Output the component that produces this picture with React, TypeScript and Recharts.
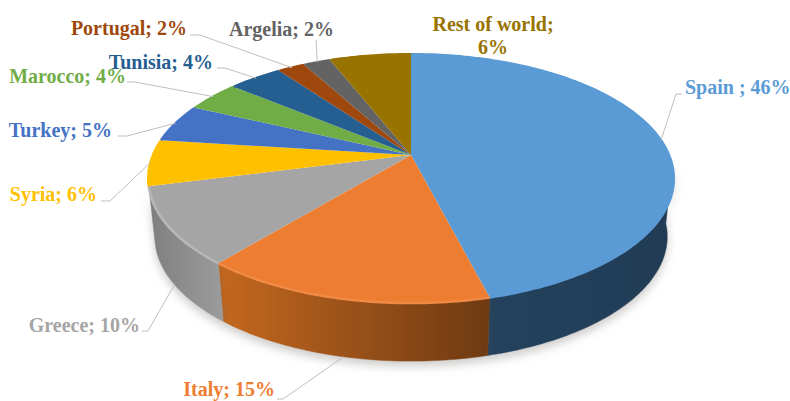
import React from 'react';
import { PieChart, Pie } from 'recharts';

// clockwise from 12 o'clock
const countries = ['Spain', 'Italy', 'Greece', 'Syria', 'Turkey', 'Marocco', 'Tunisia', 'Portugal', 'Argelia', 'Rest of world'];
const shares = [46, 15, 10, 6, 5, 4, 4, 2, 2, 6];
const separators = [' ; ', '; ', '; ', '; ', '; ', '; ', '; ', '; ', '; ', ';'];

const topColors = ['#5b9bd5', '#ed7d31', '#a5a5a5', '#ffc000', '#4472c4', '#70ad47', '#255e91', '#9e480e', '#636363', '#997300'];
const wallFrom = ['#24425e', '#c4681f', '#7f7f7f', '#a67c00', '#2c4a80', '#4a722e', '#183d5f', '#672f09', '#414141', '#644b00'];
const wallTo = ['#213b54', '#6e3a12', '#9a9a9a', '#a67c00', '#2c4a80', '#4a722e', '#183d5f', '#672f09', '#414141', '#644b00'];
const rimColors = ['#5b9bd5', '#f08a45', '#b8b8b8', '#ffc000', '#4472c4', '#70ad47', '#255e91', '#9e480e', '#636363', '#997300'];
const textColors = ['#5b9bd5', '#ed7d31', '#a5a5a5', '#ffc000', '#4472c4', '#70ad47', '#255e91', '#9e480e', '#636363', '#997300'];

const chartData = countries.map((name, i) => ({
  name,
  value: shares[i],
  fill: topColors[i],
  index: i,
}));

// where each label sits: elbow of the leader, end of the leader, text x, baseline, anchor, leader from wall foot
const labelSpots: any[] = [
  { elbow: [676, 94], end: [682, 94], x: 685, y: 94, anchor: 'start', foot: false },
  { elbow: [283, 399], end: [277, 399], x: 275, y: 396, anchor: 'end', foot: true },
  { elbow: [148, 331], end: [142, 331], x: 140, y: 332, anchor: 'end', foot: true },
  { elbow: [110, 201], end: [101, 201], x: 97, y: 201, anchor: 'end', foot: false },
  { elbow: [127, 136], end: [118, 136], x: 112, y: 137, anchor: 'end', foot: false },
  { elbow: [135, 82], end: [127, 82], x: 126, y: 83, anchor: 'end', foot: false },
  { elbow: [225, 68], end: [217, 68], x: 213, y: 69, anchor: 'end', foot: false },
  { elbow: [200, 35], end: [190, 35], x: 187, y: 35, anchor: 'end', foot: false },
  { elbow: [316, 40], end: [316, 40], x: 334, y: 36, anchor: 'end', foot: false },
];

const WIDTH = 790;
const HEIGHT = 401;
const CX = 411;
const CY = 155;
const RX = 258;
const RY = 120;
const TILT = -0.19; // perspective, the front of the disc is nearer
const DEPTH = 58;
const FOOT_SCALE = 0.975;

// polar angle -> point on the tilted disc
function rimPoint(cx: number, cy: number, angle: number, foot = false) {
  const rad = (angle * Math.PI) / 180;
  const u = Math.cos(rad);
  const v = -Math.sin(rad);
  const w = 1 + TILT * v;
  const x = (RX * u) / w;
  const y = (RY * v) / w;
  if (foot) return [cx + x * FOOT_SCALE, cy + y + DEPTH];
  return [cx + x, cy + y];
}

function rimTrace(cx: number, cy: number, from: number, to: number, foot = false) {
  const pts = [];
  const steps = Math.max(2, Math.ceil(Math.abs(to - from)));
  for (let i = 0; i <= steps; i++) {
    pts.push(rimPoint(cx, cy, from + ((to - from) * i) / steps, foot));
  }
  return pts;
}

const toPath = (pts: number[][]) => pts.map((p) => `${p[0].toFixed(1)},${p[1].toFixed(1)}`).join(' L');

function TopSlice(props: any) {
  const { cx, cy, startAngle, endAngle, payload } = props;
  const i = payload.index;
  const pts = rimTrace(cx, cy, startAngle, endAngle);
  return (
    <g>
      <path d={`M${cx},${cy} L${toPath(pts)} Z`} fill={topColors[i]} />
      <path d={`M${toPath(pts)}`} fill="none" stroke={rimColors[i]} strokeWidth={2.5} />
    </g>
  );
}

function WallSlice(props: any) {
  const { cx, cy, startAngle, endAngle, payload } = props;
  const i = payload.index;
  // only the part of the wall facing us, the yellow slice on the left shows none
  const from = Math.min(startAngle, -5);
  const to = Math.max(endAngle, -165);
  if (from <= to) return <g />;
  const upper = rimTrace(cx, cy, from, to);
  const lower = rimTrace(cx, cy, to, from, true);
  const xs = upper.map((p) => p[0]);
  const id = `wall-${i}`;
  const rightToLeft = [Math.max(...xs), Math.min(...xs)];
  return (
    <g style={{ filter: 'drop-shadow(0px 5px 5px rgba(90,85,80,0.3))' }}>
      <defs>
        <linearGradient id={id} gradientUnits="userSpaceOnUse" x1={rightToLeft[1]} x2={rightToLeft[0]} y1={0} y2={0}>
          <stop offset="0%" stopColor={wallFrom[i]} />
          <stop offset="100%" stopColor={wallTo[i]} />
        </linearGradient>
      </defs>
      <path d={`M${toPath(upper)} L${toPath(lower)} Z`} fill={`url(#${id})`} stroke={`url(#${id})`} strokeWidth={0.5} />
    </g>
  );
}

const labelFont = {
  fontFamily: '"Liberation Serif", serif',
  fontWeight: 700,
  fontSize: 20,
  whiteSpace: 'pre' as const,
};

function SliceLabel(props: any) {
  const { cx, cy, midAngle, payload } = props;
  const i = payload.index;
  const spot = labelSpots[i];
  const text = `${payload.name}${separators[i]}`;

  // the last one has no leader and wraps over two centred lines
  if (!spot) {
    return (
      <text textAnchor="middle" fill={textColors[i]} style={labelFont}>
        <tspan x={493} y={31}>{text}</tspan>
        <tspan x={493} y={54}>{`${payload.value}%`}</tspan>
      </text>
    );
  }

  const start = rimPoint(cx, cy, midAngle, spot.foot);
  return (
    <g>
      <path
        d={`M${toPath([start, spot.elbow, spot.end])}`}
        fill="none"
        stroke="#bfbfbf"
        strokeWidth={1}
      />
      <text x={spot.x} y={spot.y} textAnchor={spot.anchor} fill={textColors[i]} style={labelFont}>
        {`${text}${payload.value}%`}
      </text>
    </g>
  );
}

export default function App() {
  return (
    <div style={{ position: 'absolute', left: 0, top: 0, width: WIDTH, height: HEIGHT, background: '#fff' }}>
      <PieChart width={WIDTH} height={HEIGHT} margin={{ top: 0, right: 0, bottom: 0, left: 0 }}>
        <Pie
          data={chartData}
          dataKey="value"
          cx={CX}
          cy={CY}
          outerRadius={RY}
          startAngle={90}
          endAngle={-270}
          shape={WallSlice}
          isAnimationActive={false}
        />
        <Pie
          data={chartData}
          dataKey="value"
          cx={CX}
          cy={CY}
          outerRadius={RY}
          startAngle={90}
          endAngle={-270}
          shape={TopSlice}
          label={SliceLabel}
          labelLine={false}
          isAnimationActive={false}
        />
      </PieChart>
    </div>
  );
}
